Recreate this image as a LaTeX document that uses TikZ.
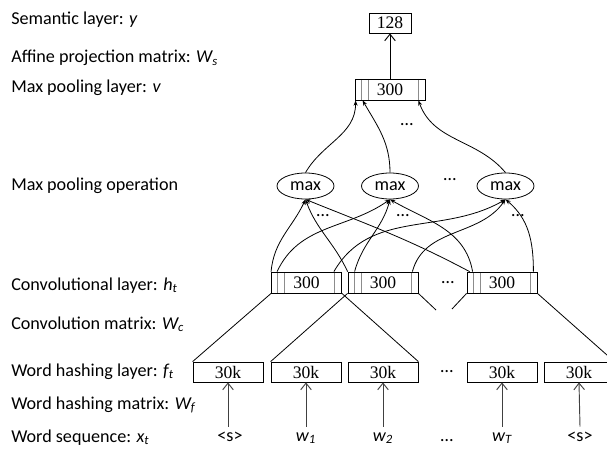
\documentclass[tikz,border=0pt]{standalone}
\usepackage{fontspec}
\setmainfont{Liberation Serif}
\newfontfamily\calfont{Carlito}
\usetikzlibrary{arrows.meta,calc,shapes.geometric}
\begin{document}
\begin{tikzpicture}[x=0.75pt,y=-0.75pt,
  lbl/.style={font=\calfont\fontsize{13.6}{16}\selectfont, anchor=base west, inner sep=0pt},
  dots/.style={font=\calfont\fontsize{13.6}{16}\selectfont, inner sep=0pt},
  box/.style={draw, line width=0.6pt, minimum width=52.5pt, minimum height=15pt, inner sep=0pt, font=\fontsize{13.2}{15}\selectfont},
  cbox/.style={box, minimum height=15.75pt, path picture={
     \draw[black!45, line width=0.6pt]
       ([xshift=4.5pt]path picture bounding box.north west) -- ([xshift=4.5pt]path picture bounding box.south west)
       ([xshift=10pt]path picture bounding box.north west) -- ([xshift=10pt]path picture bounding box.south west)
       ([xshift=-5pt]path picture bounding box.north east) -- ([xshift=-5pt]path picture bounding box.south east);}},
  mx/.style={ellipse, draw, line width=0.6pt, minimum width=42.75pt, minimum height=19.5pt, inner sep=0pt, font=\calfont\fontsize{13.6}{16}\selectfont},
  word/.style={font=\calfont\fontsize{13.6}{16}\selectfont, inner sep=0pt, text height=9pt, text depth=3pt},
  conn/.style={line width=0.6pt, -{Stealth[length=4pt,width=3pt]}},
  plain/.style={line width=0.6pt},
  warrow/.style={line width=0.7pt, black!75, -{Straight Barb[length=5pt,width=8pt]}},
  uparrow/.style={line width=0.7pt, -{Straight Barb[length=5pt,width=8pt]}}
]
\useasboundingbox (0,0) rectangle (607,449);
\clip (0,0) rectangle (607,449);

% left labels
\node[lbl] (l1) at (11,25) {Semantic layer: \textit{y}};
\node[lbl] (l2) at (11,63) {Affine projection matrix: \textit{W\textsubscript{s}}};
\node[lbl] (l3) at (11,93) {Max pooling layer: \textit{v}};
\node[lbl] (l4) at (11,191) {Max pooling operation};
\node[lbl] (l5) at (11,290) {Convolutional layer: \textit{h\textsubscript{t}}};
\node[lbl] (l6) at (11,329) {Convolution matrix: \textit{W\textsubscript{c}}};
\node[lbl] (l7) at (11,376) {Word hashing layer: \textit{f\textsubscript{t}}};
\node[lbl] (l8) at (11,409) {Word hashing matrix: \textit{W\textsubscript{f}}};
\node[lbl] (l9) at (11,442) {Word sequence: \textit{x\textsubscript{t}}};

% top boxes
\node[box, minimum width=31.5pt] (sem) at (390,23) {128};
\node[cbox] (pool) at (390,89.5) {300};
\draw[uparrow] (pool) -- (sem);

% max ellipses
\node[mx] (m1) at (305.5,186) {max};
\node[mx] (m2) at (390,186) {max};
\node[mx] (m3) at (505.5,186) {max};
\node[dots] (d1) at (450,180) {…};
\node[dots] (d0) at (407,125) {…};

\draw[conn] (m1.north) to[out=60,in=-90] ($(pool.south west)+(1,0)$);
\draw[conn] (m2.north) to[out=90,in=-60] ($(pool.south west)+(8,0)$);
\draw[conn] (m3.north) to[out=130,in=-70] ($(pool.south east)+(-7,0)$);

% conv boxes
\node[cbox] (c1) at (306.5,282.5) {300};
\node[cbox] (c2) at (383,282.5) {300};
\node[cbox] (c3) at (502,282.5) {300};
\node[dots] (d2) at (448,283) {…};

\node[dots] (e1) at (323,216) {…};
\node[dots] (e2) at (403,216) {…};
\node[dots] (e3) at (518,216) {…};

% conv -> max
\draw[conn] (c1.north west) to[out=85,in=-115] (m1.south);
\draw[conn] (c2.north west) to[out=115,in=-70] (m1.south);
\draw[conn] ($(c3.north west)+(3,0)$) to[out=152,in=-22] (m1.south);

\draw[conn] ($(c1.north west)+(6,0)$) to[out=65,in=-145] (m2.south);
\draw[conn] ($(c2.north west)+(7,0)$) to[out=75,in=-105] (m2.south);
\draw[conn] ($(c3.north west)+(6,0)$) to[out=100,in=-30] (m2.south);

\draw[conn] ($(c1.north east)+(-8,0)$) to[out=60,in=-150] (m3.south);
\draw[conn] ($(c2.north east)+(-6,0)$) to[out=75,in=-125] (m3.south);
\draw[conn] ($(c3.north east)+(-4,0)$) to[out=90,in=-40] (m3.south);

% word hashing boxes
\node[box] (h1) at (228,372) {30k};
\node[box] (h2) at (306,372) {30k};
\node[box] (h3) at (383,372) {30k};
\node[box] (h4) at (502,372) {30k};
\node[box] (h5) at (579,372) {30k};
\node[dots] (d3) at (447,372) {…};

% conv -> hash lines
\coordinate (f1) at (436,310);
\coordinate (f2) at (452,309);
\draw[plain] (c1.south west) -- (h1.north west);
\draw[plain] (c1.south east) -- (h3.north east);
\draw[plain] (c2.south west) -- (h2.north west);
\draw[plain] (c2.south east) -- (f1);
\draw[plain] (c3.south west) -- (f2);
\draw[plain] (c3.south east) -- (h5.north east);

% words
\node[word] (w1) at (230,437) {\textless s\textgreater};
\node[word] (w2) at (306,437) {\textit{w\textsubscript{1}}};
\node[word] (w3) at (383,437) {\textit{w\textsubscript{2}}};
\node[word] (w4) at (447,437) {…};
\node[word] (w5) at (502,437) {\textit{w\textsubscript{T}}};
\node[word] (w6) at (580,437) {\textless s\textgreater};

\draw[warrow] ($(w1.north)+(-2,-2)$) -- ($(h1.south)+(0,0)$);
\draw[warrow] ($(w2.north)+(0,-2)$) -- (h2.south);
\draw[warrow] ($(w3.north)+(0,-2)$) -- (h3.south);
\draw[warrow] ($(w5.north)+(0,-2)$) -- (h4.south);
\draw[warrow] ($(w6.north)+(0,-2)$) -- (h5.south);
\end{tikzpicture}
\end{document}
